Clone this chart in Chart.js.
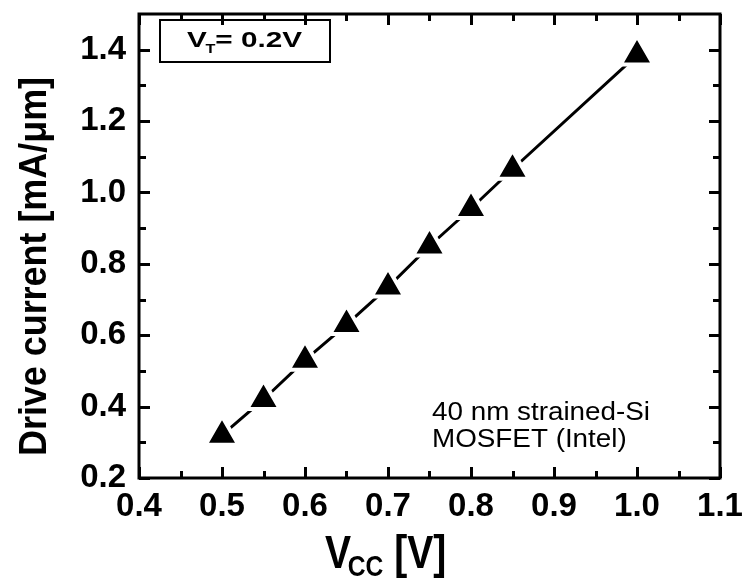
<!DOCTYPE html>
<html>
<head>
<meta charset="utf-8">
<script src="https://cdn.jsdelivr.net/npm/chart.js@4"></script>
<style>
  html, body { margin: 0; padding: 0; background: #fff; }
  #wrap { width: 751px; height: 581px; }
</style>
</head>
<body>
<div id="wrap"><canvas id="c" width="751" height="581"></canvas></div>
<script>
// Supply voltage (V) and measured drive current (mA/um)
const vccValues = [0.5, 0.55, 0.6, 0.65, 0.7, 0.75, 0.8, 0.85, 1.0];
const driveCurrent = [0.32, 0.42, 0.53, 0.63, 0.735, 0.85, 0.955, 1.065, 1.385];

// Axis tick labels
const xTickValues = [0.4, 0.5, 0.6, 0.7, 0.8, 0.9, 1.0, 1.1];
const yTickValues = [0.2, 0.4, 0.6, 0.8, 1.0, 1.2, 1.4];

const FONT = "'Liberation Sans', Arial, sans-serif";

// Midpoints between consecutive major ticks
function minorsOf(vals) {
  const out = [];
  for (let i = 0; i < vals.length - 1; i++) out.push((vals[i] + vals[i + 1]) / 2);
  return out;
}

// Draw text squeezed or stretched horizontally to a given width
function fillFitted(ctx, text, x, y, width) {
  const w = ctx.measureText(text).width;
  ctx.save();
  ctx.translate(x, y);
  ctx.scale(width / w, 1);
  ctx.fillText(text, 0, 0);
  ctx.restore();
}

// Boxed frame with inward-pointing ticks on all four sides, plus titles and notes
const framePlugin = {
  id: 'framePlugin',
  afterDraw(chart) {
    const { ctx, chartArea: a, scales: { x, y } } = chart;
    ctx.save();
    ctx.strokeStyle = '#000';
    ctx.lineWidth = 3;
    ctx.lineCap = 'butt';

    const MAJ = 11, MIN = 7;
    ctx.beginPath();
    const xm = [...xTickValues.map(v => [v, MAJ]), ...minorsOf(xTickValues).map(v => [v, MIN])];
    xm.forEach(([v, len]) => {
      const px = Math.round(x.getPixelForValue(v)) + 0.5;
      ctx.moveTo(px, a.bottom); ctx.lineTo(px, a.bottom - len);
      ctx.moveTo(px, a.top); ctx.lineTo(px, a.top + len);
    });
    const ym = [...yTickValues.map(v => [v, MAJ]), ...minorsOf(yTickValues).map(v => [v, MIN])];
    ym.forEach(([v, len]) => {
      const py = Math.round(y.getPixelForValue(v)) + 0.5;
      ctx.moveTo(a.left, py); ctx.lineTo(a.left + len, py);
      ctx.moveTo(a.right, py); ctx.lineTo(a.right - len, py);
    });
    ctx.stroke();
    ctx.strokeRect(a.left, a.top, a.right - a.left, a.bottom - a.top);

    ctx.fillStyle = '#000';

    // Y axis title
    ctx.save();
    ctx.translate(36, 267);
    ctx.rotate(-Math.PI / 2);
    ctx.font = 'bold 38px ' + FONT;
    ctx.textAlign = 'left';
    ctx.textBaseline = 'middle';
    const yt = 'Drive current [mA/\u03bcm]';
    fillFitted(ctx, yt, -189, 0, 379);
    ctx.restore();

    // X axis title: V_CC [V]
    ctx.save();
    ctx.textBaseline = 'alphabetic';
    ctx.textAlign = 'left';
    ctx.translate(325, 568);
    ctx.scale(0.85, 1);
    ctx.font = 'bold 46px ' + FONT;
    ctx.fillText('V', 0, 0);
    let w = ctx.measureText('V').width;
    ctx.font = 'bold 29px ' + FONT;
    ctx.fillText('CC', w - 4, 8);
    w += ctx.measureText('CC').width - 4;
    ctx.font = 'bold 46px ' + FONT;
    ctx.fillText(' [V]', w, 0);
    ctx.restore();

    // Threshold voltage box
    const bx = a.left + 21, by = a.top + 6;
    ctx.lineWidth = 2;
    ctx.strokeRect(bx, by, 170, 42);
    ctx.save();
    ctx.textBaseline = 'alphabetic';
    ctx.textAlign = 'left';
    ctx.translate(bx + 27, by + 27);
    ctx.scale(1.35, 1);
    let tx = 0;
    ctx.font = 'bold 22px ' + FONT;
    ctx.fillText('V', tx, 0);
    tx += ctx.measureText('V').width - 1;
    ctx.font = 'bold 12px ' + FONT;
    ctx.fillText('T', tx, 6);
    tx += ctx.measureText('T').width;
    ctx.font = 'bold 22px ' + FONT;
    ctx.fillText('= 0.2V', tx, 0);
    ctx.restore();

    // Device note
    ctx.textAlign = 'left';
    ctx.textBaseline = 'alphabetic';
    ctx.font = '26px ' + FONT;
    fillFitted(ctx, '40 nm strained-Si', 432, 420, 218);
    const r = 218 / ctx.measureText('40 nm strained-Si').width;
    fillFitted(ctx, 'MOSFET (Intel)', 432, 447, ctx.measureText('MOSFET (Intel)').width * r);

    ctx.restore();
  }
};

const points = vccValues.map((v, i) => ({ x: v, y: driveCurrent[i] }));

new Chart(document.getElementById('c'), {
  type: 'scatter',
  data: {
    datasets: [{
      data: points,
      showLine: true,
      borderColor: '#000',
      borderWidth: 3,
      pointStyle: 'triangle',
      pointRadius: 19,
      pointHoverRadius: 19,
      pointBackgroundColor: '#000',
      pointBorderColor: '#fff',
      pointBorderWidth: 4,
      clip: false
    }]
  },
  options: {
    responsive: false,
    animation: false,
    events: [],
    layout: { autoPadding: false, padding: { top: 14, right: 31, left: 0, bottom: 0 } },
    plugins: { legend: { display: false }, tooltip: { enabled: false } },
    scales: {
      x: {
        type: 'linear',
        min: 0.4, max: 1.1,
        grid: { display: false },
        border: { display: false },
        afterBuildTicks: s => { s.ticks = xTickValues.map(v => ({ value: v })); },
        afterFit: s => { s.height = 103; s.paddingLeft = 0; s.paddingRight = 0; },
        ticks: {
          color: '#000',
          padding: 1,
          maxRotation: 0,
          autoSkip: false,
          font: { family: FONT, size: 33, weight: 'bold' },
          callback: v => Number(v).toFixed(1)
        }
      },
      y: {
        type: 'linear',
        min: 0.2, max: 1.5,
        grid: { display: false },
        border: { display: false },
        afterBuildTicks: s => { s.ticks = yTickValues.map(v => ({ value: v })); },
        afterFit: s => { s.width = 139; s.paddingTop = 0; s.paddingBottom = 0; },
        ticks: {
          color: '#000',
          padding: 5,
          autoSkip: false,
          font: { family: FONT, size: 33, weight: 'bold', lineHeight: 0.5 },
          callback: v => Number(v).toFixed(1)
        }
      }
    }
  },
  plugins: [framePlugin]
});
</script>
</body>
</html>
